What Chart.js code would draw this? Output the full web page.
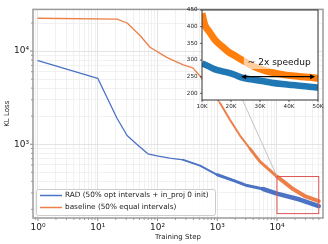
<!DOCTYPE html>
<html lang="en">
<head>
  <meta charset="UTF-8" />
  <title>KL Loss vs Training Step</title>
  <script src="https://cdn.jsdelivr.net/npm/chart.js"></script>
  <style>
    body { margin: 0; background: #fff; }
    #wrap { position: relative; width: 328px; height: 244px; }
    #main { position: absolute; left: 0; top: 0; }
    #inset { position: absolute; left: 178px; top: 0; }
  </style>
</head>
<body>
  <div id="wrap">
    <canvas id="main" width="328" height="244"></canvas>
    <canvas id="inset" width="150" height="115"></canvas>
  </div>

  <script>
    // main curves
    const blueSteps = [1, 10, 21, 31, 45, 69, 98, 160, 270, 515, 1000, 1850, 3150, 5900, 10000, 24000, 50000];
    const blueLoss = [7900, 5100, 1900, 1240, 1000, 790, 750, 710, 680, 590, 470, 410, 360, 330, 295, 255, 217];
    const orangeSteps = [1, 21, 31, 51, 75, 145, 270, 390, 515, 1120, 1630, 2400, 3550, 5200, 10000, 18600, 30000, 50000];
    const orangeLoss = [22500, 22000, 20000, 14700, 11000, 8500, 7100, 6600, 5400, 2750, 1830, 1240, 890, 650, 450, 330, 275, 245];

    // zoomed inset (linear axes)
    const insetSteps = [10000, 11000, 12500, 14500, 17000, 19000, 21500, 23800, 27000, 30700, 34000, 37600, 41000, 44500, 47000, 50000];
    const insetBlue = [290, 286, 280, 272, 266, 262, 255, 247, 242, 237, 232, 228, 225, 222, 220, 217];
    const insetOrange = [440, 405, 385, 360, 340, 325, 312, 300, 284, 271, 263, 257, 253, 250, 248, 245];

    const seriesNames = ['RAD (50% opt intervals + in_proj 0 init)', 'baseline (50% equal intervals)'];
    const xMajorTicks = [1, 10, 100, 1000, 10000];
    const xTickLabels = ['10\u2070', '10\u00B9', '10\u00B2', '10\u00B3', '10\u2074'];
    const yMajorTicks = [1000, 10000];
    const yTickLabels = ['10\u00B3', '10\u2074'];
    const insetXTicks = [10000, 20000, 30000, 40000, 50000];
    const insetXLabels = ['10K', '20K', '30K', '40K', '50K'];
    const insetYTicks = [200, 250, 300, 350, 400, 450];
    const zoomX = [10000, 50000];
    const zoomY = [180, 450];
    const arrowFrom = 23500, arrowTo = 49000, arrowY = 250;
    const noteText = '~ 2x speedup';

    const BLUE = '#4c72c4', ORANGE = '#ec8048';
    const INSET_BLUE = '#1f77b4', INSET_ORANGE = '#ff7f0e';
    const FONT = 'DejaVu Sans';

    function pts(xs, ys) { return xs.map((x, i) => ({ x, y: ys[i] })); }
    function isMajor(v) { const l = Math.log10(v); return Math.abs(l - Math.round(l)) < 1e-9; }
    // 1..9 x 10^k between min and max
    function logTicks(min, max) {
      const out = [];
      for (let k = -1; Math.pow(10, k) <= max; k++) {
        for (let m = 1; m < 10; m++) {
          const v = Math.round(m * Math.pow(10, k) * 1000) / 1000;
          if (v >= min && v <= max) out.push(v);
        }
      }
      return out;
    }

    const INSET_LEFT = 178, INSET_TOP = 0;

    // ---------- inset ----------
    const insetDecor = {
      id: 'insetDecor',
      beforeDraw(chart) {
        const { ctx, chartArea: a } = chart;
        ctx.save();
        ctx.fillStyle = '#fff';
        ctx.fillRect(a.left, a.top, a.right - a.left, a.bottom - a.top);
        ctx.restore();
      },
      afterDraw(chart) {
        const { ctx, chartArea: a, scales: { x, y } } = chart;
        ctx.save();
        // note text with pale box
        ctx.font = `9px "${FONT}"`;
        ctx.textBaseline = 'middle';
        const tx = x.getPixelForValue(25800), ty = y.getPixelForValue(291);
        const w = ctx.measureText(noteText).width;
        ctx.fillStyle = 'rgba(255,255,255,0.6)';
        ctx.fillRect(tx - 4, ty - 6, w + 6, 12);
        ctx.fillStyle = '#111';
        ctx.fillText(noteText, tx, ty);
        // double arrow
        const ax0 = x.getPixelForValue(arrowFrom), ax1 = x.getPixelForValue(arrowTo), ay = y.getPixelForValue(arrowY);
        ctx.strokeStyle = '#000'; ctx.fillStyle = '#000'; ctx.lineWidth = 1.2;
        ctx.beginPath(); ctx.moveTo(ax0 + 3, ay); ctx.lineTo(ax1 - 3, ay); ctx.stroke();
        ctx.beginPath(); ctx.moveTo(ax0, ay); ctx.lineTo(ax0 + 5, ay - 2.5); ctx.lineTo(ax0 + 5, ay + 2.5); ctx.closePath(); ctx.fill();
        ctx.beginPath(); ctx.moveTo(ax1, ay); ctx.lineTo(ax1 - 5, ay - 2.5); ctx.lineTo(ax1 - 5, ay + 2.5); ctx.closePath(); ctx.fill();
        // ticks + frame
        ctx.strokeStyle = '#333'; ctx.lineWidth = 0.8;
        x.ticks.forEach(t => {
          const p = x.getPixelForValue(t.value);
          ctx.beginPath(); ctx.moveTo(p, a.bottom); ctx.lineTo(p, a.bottom + 2); ctx.stroke();
        });
        y.ticks.forEach(t => {
          const p = y.getPixelForValue(t.value);
          ctx.beginPath(); ctx.moveTo(a.left, p); ctx.lineTo(a.left - 2, p); ctx.stroke();
        });
        ctx.lineWidth = 1;
        ctx.strokeRect(a.left, a.top, a.right - a.left, a.bottom - a.top);
        ctx.restore();
      }
    };

    const insetChart = new Chart(document.getElementById('inset'), {
      type: 'line',
      data: {
        datasets: [
          {
            data: pts(insetSteps, insetOrange), borderColor: INSET_ORANGE, borderWidth: 7,
            pointRadius: 0, order: 0, cubicInterpolationMode: 'monotone', borderJoinStyle: 'round'
          },
          {
            data: pts(insetSteps, insetBlue), borderColor: INSET_BLUE, borderWidth: 6.5,
            pointRadius: 0, order: 1, cubicInterpolationMode: 'monotone', borderJoinStyle: 'round'
          }
        ]
      },
      options: {
        responsive: false,
        animation: false,
        devicePixelRatio: 1,
        layout: { padding: { left: 0, right: 10, top: 10, bottom: 0 } },
        plugins: { legend: { display: false }, tooltip: { enabled: false } },
        scales: {
          x: {
            type: 'linear', min: zoomX[0], max: zoomX[1],
            afterBuildTicks: s => { s.ticks = insetXTicks.map(v => ({ value: v })); },
            afterFit: s => { s.height = 15; },
            ticks: {
              autoSkip: false, maxRotation: 0, padding: 3.5, color: '#222',
              font: { family: FONT, size: 5.6 },
              callback: v => insetXLabels[insetXTicks.indexOf(v)]
            },
            grid: { display: false, drawTicks: false },
            border: { display: false }
          },
          y: {
            type: 'linear', min: zoomY[0], max: zoomY[1],
            afterBuildTicks: s => { s.ticks = insetYTicks.map(v => ({ value: v })); },
            afterFit: s => { s.width = 24; },
            ticks: { autoSkip: false, padding: 4.5, color: '#222', font: { family: FONT, size: 5.6 } },
            grid: { display: false, drawTicks: false },
            border: { display: false }
          }
        }
      },
      plugins: [insetDecor]
    });

    // ---------- main ----------
    const blueWidth = v => v < 200 ? 1.3 : v < 1000 ? 2 : v < 5000 ? 3 : 4.5;
    const orangeWidth = v => v < 1000 ? 1.3 : v < 3000 ? 2 : v < 8000 ? 3 : 4;

    const mainDecor = {
      id: 'mainDecor',
      afterDraw(chart) {
        const { ctx, chartArea: a, scales: { x, y } } = chart;
        ctx.save();
        // tick marks
        ctx.strokeStyle = '#666'; ctx.lineWidth = 0.8;
        x.ticks.forEach(t => {
          const p = x.getPixelForValue(t.value), len = isMajor(t.value) ? 3 : 1.8;
          ctx.beginPath(); ctx.moveTo(p, a.bottom); ctx.lineTo(p, a.bottom + len); ctx.stroke();
        });
        y.ticks.forEach(t => {
          const p = y.getPixelForValue(t.value), len = isMajor(t.value) ? 3 : 1.8;
          ctx.beginPath(); ctx.moveTo(a.left, p); ctx.lineTo(a.left - len, p); ctx.stroke();
        });
        // zoom box and connector to inset corner
        const bx0 = x.getPixelForValue(zoomX[0]), bx1 = x.getPixelForValue(zoomX[1]);
        const by0 = y.getPixelForValue(zoomY[1]), by1 = y.getPixelForValue(zoomY[0]);
        const ia = insetChart.chartArea;
        ctx.strokeStyle = '#b5b5b5'; ctx.lineWidth = 0.8;
        ctx.beginPath(); ctx.moveTo(bx0, by0); ctx.lineTo(INSET_LEFT + ia.left, INSET_TOP + ia.top); ctx.stroke();
        ctx.strokeStyle = '#dd5555'; ctx.lineWidth = 1;
        ctx.strokeRect(bx0, by0, bx1 - bx0, by1 - by0);
        // frame
        ctx.strokeStyle = '#9a9a9a'; ctx.lineWidth = 1.5;
        ctx.strokeRect(a.left, a.top, a.right - a.left, a.bottom - a.top);
        // legend
        ctx.fillStyle = 'rgba(255,255,255,0.85)';
        ctx.strokeStyle = '#cccccc'; ctx.lineWidth = 1;
        ctx.beginPath(); ctx.roundRect(36.5, 189.5, 179, 26, 2); ctx.fill(); ctx.stroke();
        ctx.font = `7.3px "${FONT}"`;
        ctx.textBaseline = 'middle';
        [[BLUE, 195.5], [ORANGE, 207.5]].forEach(([c, ly], i) => {
          ctx.strokeStyle = c; ctx.lineWidth = 1.5;
          ctx.beginPath(); ctx.moveTo(40, ly); ctx.lineTo(62, ly); ctx.stroke();
          ctx.fillStyle = '#222';
          ctx.fillText(seriesNames[i], 65, ly);
        });
        // axis titles
        ctx.font = `7px "${FONT}"`;
        ctx.textAlign = 'center';
        ctx.fillStyle = '#222';
        ctx.fillText('Training Step', (a.left + a.right) / 2, 237);
        ctx.translate(7.5, (a.top + a.bottom) / 2);
        ctx.rotate(-Math.PI / 2);
        ctx.fillText('KL Loss', 0, 0);
        ctx.restore();
      }
    };

    new Chart(document.getElementById('main'), {
      type: 'line',
      data: {
        datasets: [
          {
            label: seriesNames[0], data: pts(blueSteps, blueLoss), borderColor: BLUE,
            borderWidth: 1.3, pointRadius: 0, order: 1, borderCapStyle: 'round', borderJoinStyle: 'round',
            segment: { borderWidth: c => blueWidth(c.p0.parsed.x) }
          },
          {
            label: seriesNames[1], data: pts(orangeSteps, orangeLoss), borderColor: ORANGE,
            borderWidth: 1.3, pointRadius: 0, order: 0, borderCapStyle: 'round', borderJoinStyle: 'round',
            segment: { borderWidth: c => orangeWidth(c.p0.parsed.x) }
          }
        ]
      },
      options: {
        responsive: false,
        animation: false,
        devicePixelRatio: 1,
        layout: { padding: { left: 0, right: 5, top: 3, bottom: 0 } },
        plugins: { legend: { display: false }, tooltip: { enabled: false } },
        scales: {
          x: {
            type: 'logarithmic', min: 0.825, max: 58900,
            afterBuildTicks: s => { s.ticks = logTicks(0.825, 58900).map(v => ({ value: v })); },
            afterFit: s => { s.height = 26; },
            ticks: {
              autoSkip: false, maxRotation: 0, padding: 4, color: '#222',
              font: { family: FONT, size: 9 },
              callback: v => { const i = xMajorTicks.indexOf(v); return i >= 0 ? xTickLabels[i] : ''; }
            },
            grid: {
              drawTicks: false, lineWidth: 0.8,
              color: c => (c.tick && isMajor(c.tick.value)) ? '#dddddd' : '#eeeeee'
            },
            border: { display: false }
          },
          y: {
            type: 'logarithmic', min: 161.5, max: 28000,
            afterBuildTicks: s => { s.ticks = logTicks(161.5, 28000).map(v => ({ value: v })); },
            afterFit: s => { s.width = 33; },
            ticks: {
              autoSkip: false, padding: 4, color: '#222',
              font: { family: FONT, size: 9 },
              callback: v => { const i = yMajorTicks.indexOf(v); return i >= 0 ? yTickLabels[i] : ''; }
            },
            grid: {
              drawTicks: false, lineWidth: 0.8,
              color: c => (c.tick && isMajor(c.tick.value)) ? '#dddddd' : '#eeeeee'
            },
            border: { display: false }
          }
        }
      },
      plugins: [mainDecor]
    });
  </script>
</body>
</html>
